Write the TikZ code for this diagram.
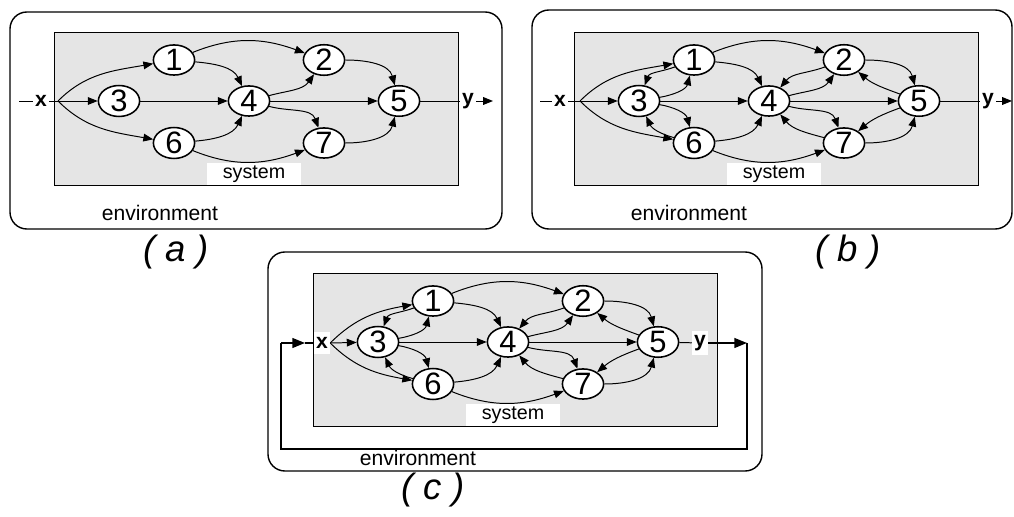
\documentclass[tikz,border=0pt]{standalone}
\usepackage{fontspec}
\setmainfont{Liberation Sans}
\usetikzlibrary{shapes.geometric,arrows.meta}
\definecolor{sysgray}{RGB}{229,229,229}

\begin{document}
\begin{tikzpicture}[x=0.025cm, y=-0.025cm]
\useasboundingbox (0,0) rectangle (1014,517);

% Styles for the boxes, the units and the flows
\tikzstyle{env}=[draw, line width=1pt, rounded corners=12pt]
\tikzstyle{sys}=[draw, fill=sysgray, line width=0.7pt]
\tikzstyle{unit}=[draw, fill=white, ellipse, line width=1.1pt, minimum width=1.03cm, minimum height=0.72cm, inner sep=0pt, font=\fontsize{22}{22}\selectfont]
\tikzstyle{tagbox}=[fill=white, minimum width=2.35cm, minimum height=0.55cm, inner sep=0pt, font=\fontsize{14}{14}\selectfont]
\tikzstyle{tag}=[font=\fontsize{15}{15}\selectfont]
\tikzstyle{io}=[fill=white, inner xsep=1.5pt, minimum height=0.55cm, font=\bfseries\fontsize{15}{15}\selectfont]
\tikzstyle{caption}=[font=\itshape\fontsize{26}{26}\selectfont]
\tikzstyle{wire}=[line width=0.7pt]
\tikzstyle{flow}=[wire, -{Triangle[length=7pt,width=5.5pt]}]
\tikzstyle{feedback}=[line width=1.2pt]

% Environments
\draw[env] (10,12) rectangle (502,229);
\draw[env] (532,10) rectangle (1012,229);
\draw[env] (268,252) rectangle (762,471);

% Systems with their seven units
\foreach \p/\dx/\dy in {a/54/32, b/574/32, c/313/273}{
  \begin{scope}[shift={(\dx,\dy)}]
    \draw[sys] (0,0) rectangle (404,153);
    \node[tagbox] (\p sys) at (200,142) {system};
    \node[unit] (\p1) at (120,28) {1};
    \node[unit] (\p2) at (270,28) {2};
    \node[unit] (\p3) at (65,69) {3};
    \node[unit] (\p4) at (195,69) {4};
    \node[unit] (\p5) at (345,69) {5};
    \node[unit] (\p6) at (120,111) {6};
    \node[unit] (\p7) at (270,111) {7};
  \end{scope}
}

% (a) input and output
\node[io] (ax) at (41,101) {x};
\node[io] (ay) at (468,101) {y};
\coordinate (ain) at (19,101);
\coordinate (abr) at (58,101);
\coordinate (aout) at (493,101);
\draw[wire] (ain) -- (ax) -- (abr);
\draw[wire] (a5) -- (ay);
\draw[flow] (ay) -- (aout);

% (b) input and output
\node[io] (bx) at (560,101) {x};
\node[io] (by) at (988,101) {y};
\coordinate (bin) at (540,101);
\coordinate (bbr) at (580,101);
\coordinate (bout) at (1012,101);
\draw[wire] (bin) -- (bx) -- (bbr);
\draw[wire] (b5) -- (by);
\draw[flow] (by) -- (bout);

% (c) input and output, fed back through the environment
\node[io] (cx) at (322,343) {x};
\node[io] (cy) at (700,343) {y};
\coordinate (cbr) at (cx.east);
\coordinate (cr) at (747,343);
\coordinate (cl) at (281,343);
\coordinate (cm) at (305,343);
\draw[wire] (c5) -- (cy);
\draw[feedback, -{Triangle[length=9pt,width=7pt]}] (cy) -- (cr);
\draw[feedback] (cr) -- ++(0,106) -| (cl);
\draw[feedback, -{Triangle[length=9pt,width=7pt]}] (cl) -- (cm);
\draw[feedback] (cm) -- (cx);

% Forward flows
\foreach \p in {a,b,c}{
  \draw[flow] (\p br) -- (\p3);
  \draw[flow] (\p br) to[out=45,in=190] (\p1);
  \draw[flow] (\p br) to[out=-45,in=170] (\p6);
  \draw[flow] (\p1) to[out=22,in=160] (\p2);
  \draw[flow] (\p1) to[out=-5,in=115] (\p4);
  \draw[flow] (\p3) -- (\p4);
  \draw[flow] (\p6) to[out=5,in=245] (\p4);
  \draw[flow] (\p6) to[out=-22,in=200] (\p7);
  \draw[flow] (\p4) to[out=15,in=235] (\p2);
  \draw[flow] (\p4) -- (\p5);
  \draw[flow] (\p4) to[out=-15,in=110] (\p7);
  \draw[flow] (\p2) to[out=0,in=105] (\p5);
  \draw[flow] (\p7) to[out=0,in=255] (\p5);
}

% Backward flows
\foreach \p in {b,c}{
  \draw[flow] (\p1) to[out=200,in=70] (\p3);
  \draw[flow] (\p3) to[out=10,in=255] (\p1);
  \draw[flow] (\p3) to[out=-10,in=105] (\p6);
  \draw[flow] (\p6) to[out=165,in=295] (\p3);
  \draw[flow] (\p2) to[out=200,in=50] (\p4);
  \draw[flow] (\p5) to[out=160,in=320] (\p2);
  \draw[flow] (\p5) to[out=200,in=40] (\p7);
  \draw[flow] (\p7) to[out=165,in=310] (\p4);
}

% Labels
\node[tag] (aenv) at (160,213) {environment};
\node[tag] (benv) at (689,213) {environment};
\node[tag] (cenv) at (418,458) {environment};
\node[caption] (acap) at (176,252) {( a )};
\node[caption] (bcap) at (848,252) {( b )};
\node[caption] (ccap) at (433,490) {( c )};
\end{tikzpicture}
\end{document}
